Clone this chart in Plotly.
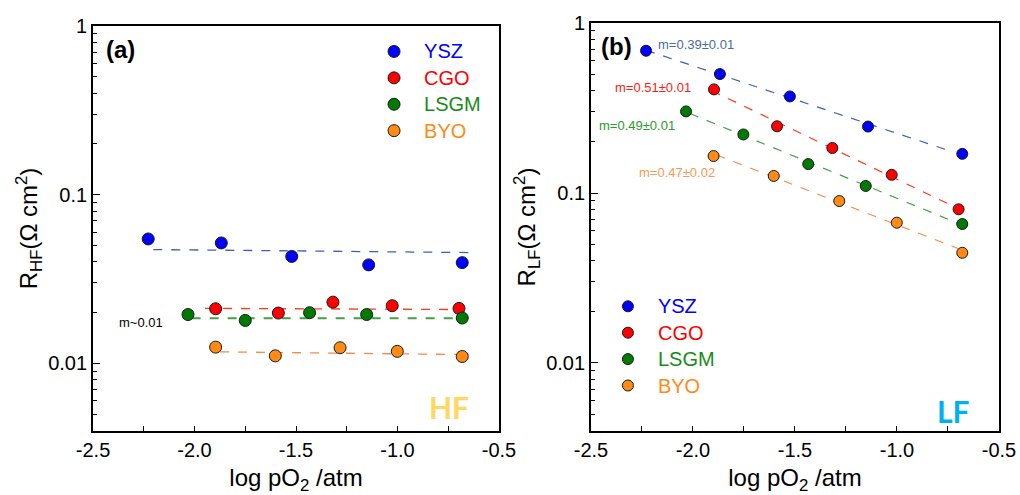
import numpy as np
import plotly.graph_objects as go

# ---- data -------------------------------------------------------------
materials = ["YSZ", "CGO", "LSGM", "BYO"]

# (a) high-frequency resistance vs log pO2
hf_logpo2 = {
    "YSZ":  [-2.228, -1.868, -1.521, -1.142, -0.681],
    "CGO":  [-1.896, -1.587, -1.318, -1.026, -0.697],
    "LSGM": [-2.032, -1.750, -1.433, -1.152, -0.681],
    "BYO":  [-1.896, -1.602, -1.283, -1.001, -0.681],
}
hf_r = {
    "YSZ":  [0.0547, 0.0518, 0.0431, 0.0384, 0.0396],
    "CGO":  [0.0211, 0.0199, 0.0231, 0.0220, 0.0212],
    "LSGM": [0.0195, 0.0180, 0.0200, 0.0195, 0.0186],
    "BYO":  [0.0125, 0.0111, 0.0124, 0.0118, 0.0110],
}
# fitted lines for (a): log10(R) = intercept + slope * log pO2
hf_fit_slope = [-0.0114, -0.0055, 0.0, -0.0134]
hf_fit_intercept = [-1.350, -1.684, -1.732, -1.956]
hf_fit_xmin = [-2.203, -1.948, -2.014, -1.874]
hf_fit_xmax = [-0.627, -0.684, -0.684, -0.676]

# (b) low-frequency resistance vs log pO2
lf_logpo2 = {
    "YSZ":  [-2.230, -1.868, -1.525, -1.142, -0.680],
    "CGO":  [-1.897, -1.588, -1.317, -1.026, -0.698],
    "LSGM": [-2.034, -1.753, -1.435, -1.153, -0.680],
    "BYO":  [-1.899, -1.604, -1.283, -1.001, -0.680],
}
lf_r = {
    "YSZ":  [0.687, 0.501, 0.370, 0.246, 0.170],
    "CGO":  [0.407, 0.247, 0.184, 0.128, 0.0802],
    "LSGM": [0.302, 0.221, 0.148, 0.110, 0.0657],
    "BYO":  [0.165, 0.126, 0.0897, 0.0669, 0.0445],
}
lf_fit_xmin = [-2.230, -1.908, -2.015, -1.884]
lf_fit_xmax = [-0.732, -0.667, -0.652, -0.676]
slope_labels = ["m=0.39±0.01", "m=0.51±0.01", "m=0.49±0.01", "m=0.47±0.02"]

x_tickvals = [-2.5, -2.0, -1.5, -1.0, -0.5]
x_ticktext = ["-2.5", "-2.0", "-1.5", "-1.0", "-0.5"]

# ---- styling ----------------------------------------------------------
marker_colors = {"YSZ": "#0000ff", "CGO": "#ff0000", "LSGM": "#007a00", "BYO": "#ff8a14"}
legend_text_colors = {"YSZ": "#0000ff", "CGO": "#ff0000", "LSGM": "#1a8a1a", "BYO": "#ff8a14"}
line_colors = {"YSZ": "#3a62b0", "CGO": "#ff3a1a", "LSGM": "#45a045", "BYO": "#f58a45"}
label_colors = ["#4a6c9e", "#ff1a1a", "#2a9a2a", "#f59a55"]
FONT = "Liberation Sans, Arial, sans-serif"
NB = "\u00a0\u00a0"


def legend_name(m):
    return (f"{NB}<span style='color:{legend_text_colors[m]};font-size:20px'>{m}</span>")


fig = go.Figure()

# (a) fit lines then markers
for i, m in enumerate(materials):
    xs = np.array([hf_fit_xmin[i], hf_fit_xmax[i]])
    ys = 10 ** (hf_fit_intercept[i] + hf_fit_slope[i] * xs)
    fig.add_trace(go.Scatter(
        x=xs, y=ys, mode="lines", showlegend=False, hoverinfo="skip",
        line=dict(color=line_colors[m], width=1.8 if m == "LSGM" else 1.3, dash="dash"),
        xaxis="x", yaxis="y"))
for m in materials:
    fig.add_trace(go.Scatter(
        x=hf_logpo2[m], y=hf_r[m], mode="markers",
        name=legend_name(m), legend="legend",
        marker=dict(size=12, color=marker_colors[m], line=dict(color="#1a1a1a", width=1)),
        xaxis="x", yaxis="y"))

# (b) least-squares fit lines in log-log space, then markers
for i, m in enumerate(materials):
    b, a = np.polyfit(lf_logpo2[m], np.log10(lf_r[m]), 1)
    xs = np.array([lf_fit_xmin[i], lf_fit_xmax[i]])
    ys = 10 ** (a + b * xs)
    fig.add_trace(go.Scatter(
        x=xs, y=ys, mode="lines", showlegend=False, hoverinfo="skip",
        line=dict(color=line_colors[m], width=1.2, dash="dash"),
        xaxis="x2", yaxis="y2"))
for m in materials:
    fig.add_trace(go.Scatter(
        x=lf_logpo2[m], y=lf_r[m], mode="markers",
        name=legend_name(m), legend="legend2",
        marker=dict(size=11, color=marker_colors[m], line=dict(color="#1a1a1a", width=1)),
        xaxis="x2", yaxis="y2"))

xaxis_common = dict(
    range=[-2.5, -0.5], tickmode="array", tickvals=x_tickvals, ticktext=x_ticktext,
    ticks="inside", ticklen=5, tickwidth=1.3, tickcolor="black",
    minor=dict(ticks="inside", ticklen=5, tickwidth=1.3, tickcolor="black", dtick=0.25, tick0=-2.5),
    showline=True, linecolor="black", linewidth=1.8, mirror=True,
    showgrid=False, zeroline=False, automargin=False,
    tickfont=dict(family=FONT, size=20, color="black"),
    title=dict(text="log pO<sub>2</sub> /atm", font=dict(family=FONT, size=24, color="black"), standoff=9),
)
yaxis_common = dict(
    type="log", range=[-2.4, 0], dtick=1,
    ticks="inside", ticklen=7, tickwidth=1.3, tickcolor="black",
    minor=dict(ticks="inside", ticklen=4, tickwidth=1.1, tickcolor="black", dtick="D1"),
    showline=True, linecolor="black", linewidth=1.8, mirror=True,
    showgrid=False, zeroline=False, automargin=False,
    tickfont=dict(family=FONT, size=20, color="black"),
)

fig.update_layout(
    width=1020, height=495,
    margin=dict(l=0, r=0, t=0, b=0, autoexpand=False),
    paper_bgcolor="white", plot_bgcolor="white",
    font=dict(family=FONT, color="black"),
    xaxis=dict(domain=[0.0912, 0.4892], anchor="y", **xaxis_common),
    xaxis2=dict(domain=[0.5794, 0.9794], anchor="y2", **xaxis_common),
    yaxis=dict(domain=[0.1293, 0.9475], anchor="x",
               title=dict(text="R<sub>HF</sub>(Ω cm<sup>2</sup>)",
                          font=dict(family=FONT, size=24, color="black"), standoff=4),
               **yaxis_common),
    yaxis2=dict(domain=[0.1293, 0.9535], anchor="x2",
                title=dict(text="R<sub>LF</sub>(Ω cm<sup>2</sup>)",
                           font=dict(family=FONT, size=24, color="black"), standoff=4),
                **yaxis_common),
    legend=dict(x=0.3667, y=0.9328, xanchor="left", yanchor="top",
                bgcolor="rgba(0,0,0,0)", font=dict(family=FONT, size=18),
                itemclick=False, itemdoubleclick=False),
    legend2=dict(x=0.596, y=0.418, xanchor="left", yanchor="top",
                 bgcolor="rgba(0,0,0,0)", font=dict(family=FONT, size=18),
                 itemclick=False, itemdoubleclick=False),
    showlegend=True,
)

anns = []
# panel letters
anns.append(dict(text="<b>(a)</b>", xref="paper", yref="paper", x=104 / 1020, y=1 - 50 / 495,
                 xanchor="left", yanchor="middle", showarrow=False,
                 font=dict(family=FONT, size=24, color="black")))
anns.append(dict(text="<b>(b)</b>", xref="paper", yref="paper", x=599 / 1020, y=1 - 47 / 495,
                 xanchor="left", yanchor="middle", showarrow=False,
                 font=dict(family=FONT, size=24, color="black")))
# frequency tags
anns.append(dict(text="<b>HF</b>", xref="x domain", yref="y domain", x=0.931, y=0.059,
                 xanchor="right", yanchor="middle", showarrow=False,
                 font=dict(family="Lato, Open Sans, sans-serif", size=30, color="#ffd763")))
anns.append(dict(text="<b>LF</b>", xref="x2 domain", yref="y2 domain", x=0.934, y=0.049,
                 xanchor="right", yanchor="middle", showarrow=False,
                 font=dict(family="Lato, Open Sans, sans-serif", size=30, color="#00b0f0")))
# slope annotations (y positions given as log10 values on the log axes)
anns.append(dict(text="m~0.01", xref="x", yref="y", x=-2.382, y=-1.757,
                 xanchor="left", yanchor="middle", showarrow=False,
                 font=dict(family=FONT, size=13, color="black")))
label_pos = [(-2.183, -0.129), (-2.391, -0.382), (-2.472, -0.604), (-2.276, -0.881)]
for (lx, ly), txt, col in zip(label_pos, slope_labels, label_colors):
    anns.append(dict(text=txt, xref="x2", yref="y2", x=lx, y=ly,
                     xanchor="left", yanchor="middle", showarrow=False,
                     font=dict(family=FONT, size=13, color=col)))
fig.update_layout(annotations=anns)

fig.write_html("out.html")
